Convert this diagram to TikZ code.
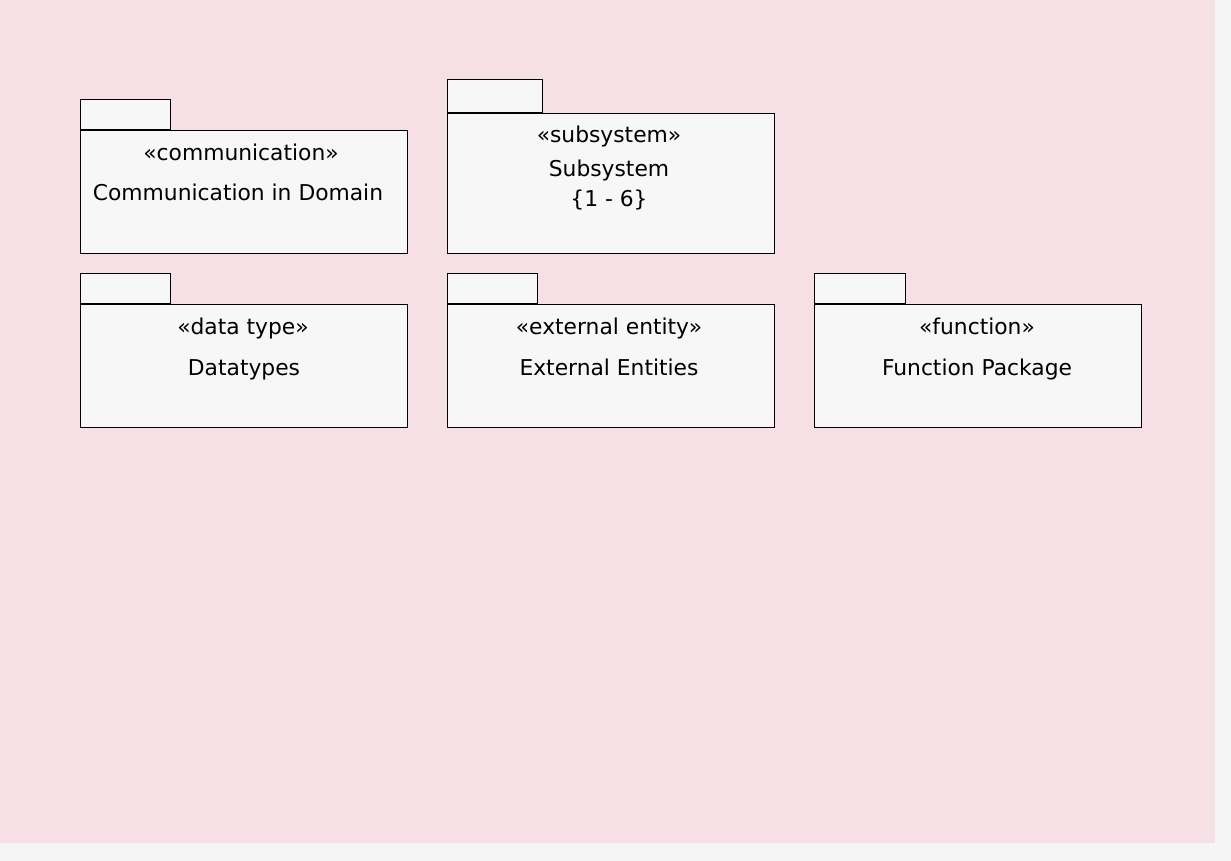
\documentclass[tikz,border=0pt]{standalone}
\usepackage{fontspec}
\setmainfont{DejaVu Sans}
\definecolor{bgpink}{HTML}{F6E0E6}
\definecolor{boxgray}{HTML}{F7F7F7}
\definecolor{rimgray}{HTML}{F5F5F5}
\tikzset{
  pkg/.style={draw, fill=boxgray, line width=0.5pt, anchor=north west, inner sep=0pt, minimum width=163.5pt, minimum height=61.5pt},
  pkgtab/.style={draw, fill=boxgray, line width=0.5pt, anchor=south west, inner sep=0pt, minimum height=15pt},
  lbl/.style={inner sep=0pt, text height=8pt, text depth=2.4pt, yshift=-1.2pt, font=\fontsize{10.9pt}{12pt}\selectfont}
}
\begin{document}
\begin{tikzpicture}[x=0.5pt, y=-0.5pt]
\fill[rimgray] (0,0) rectangle (1231,861);
\fill[bgpink] (0,0) rectangle (1215,843);
\useasboundingbox (0,0) rectangle (1231,861);
% top row
\node[pkg] (comm) at (80,130){};
\node[pkgtab, minimum width=45pt] (commtab) at (comm.north west){};
\node[lbl] (commst) at (241,153){«communication»};
\node[lbl] (commnm) at (238,193){Communication in Domain};
\node[pkg, minimum height=70pt] (subs) at (447,113){};
\node[pkgtab, minimum width=47.5pt, minimum height=16.5pt] (substab) at (subs.north west){};
\node[lbl] (subsst) at (609,135){«subsystem»};
\node[lbl] (subsnm) at (609,169){Subsystem};
\node[lbl] (subsmul) at (609,199){\{1 - 6\}};
% bottom row
\node[pkg] (dtyp) at (80,304){};
\node[pkgtab, minimum width=45pt] (dtyptab) at (dtyp.north west){};
\node[lbl] (dtypst) at (243,327){«data type»};
\node[lbl] (dtypnm) at (244,367){Datatypes};
\node[pkg] (extn) at (447,304){};
\node[pkgtab, minimum width=45pt] (extntab) at (extn.north west){};
\node[lbl] (extnst) at (609,327){«external entity»};
\node[lbl] (extnnm) at (609,367){External Entities};
\node[pkg] (func) at (814,304){};
\node[pkgtab, minimum width=45.5pt] (functab) at (func.north west){};
\node[lbl] (funcst) at (977,327){«function»};
\node[lbl] (funcnm) at (977,367){Function Package};
\end{tikzpicture}
\end{document}
